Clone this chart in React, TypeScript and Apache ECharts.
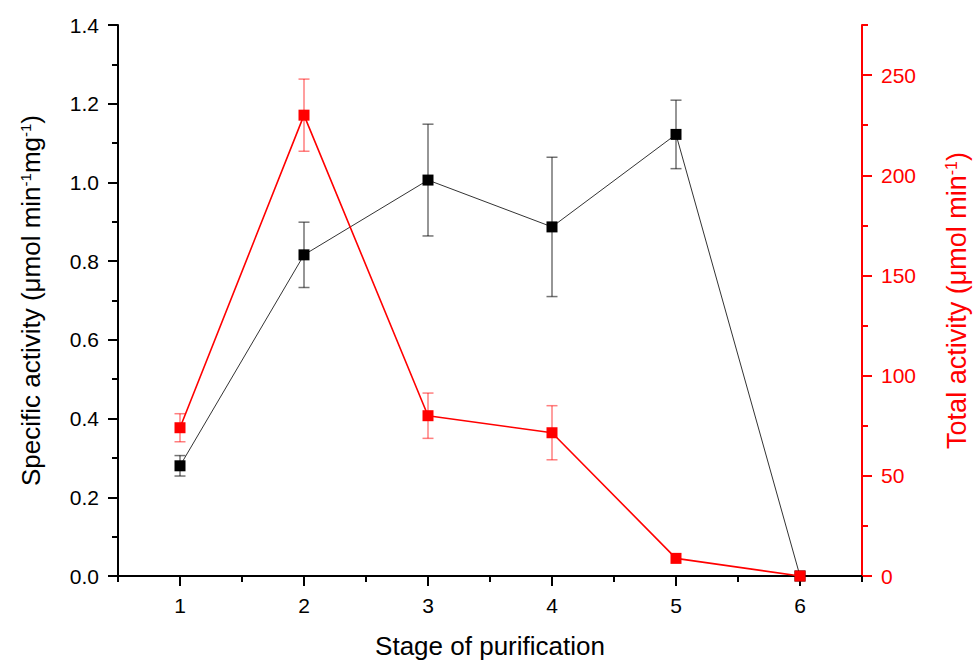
import React, { useEffect, useRef } from 'react';
import * as echarts from 'echarts';

const stages = [1, 2, 3, 4, 5, 6];
const specificActivity = [0.28, 0.816, 1.006, 0.887, 1.122, 0];
const specificError = [0.026, 0.083, 0.142, 0.177, 0.087, 0];
const totalActivity = [74, 230, 80, 71.5, 8.8, 0];
const totalError = [7, 18, 11.3, 13.5, 0, 0];
const xMajorTicks = [1, 2, 3, 4, 5, 6];
const rightMajorTicks = [0, 50, 100, 150, 200, 250];

const FONT = '"Liberation Sans", Arial, Helvetica, sans-serif';

function errorRender(color: string) {
  return (params: any, api: any) => {
    const x = api.value(0);
    const lo = api.value(1);
    const hi = api.value(2);
    if (!(hi - lo > 0)) return { type: 'group', children: [] };
    const pLo = api.coord([x, lo]);
    const pHi = api.coord([x, hi]);
    const w = 5.5;
    const style = { stroke: color, lineWidth: 1.5 };
    return {
      type: 'group',
      children: [
        { type: 'line', shape: { x1: pLo[0], y1: pLo[1], x2: pHi[0], y2: pHi[1] }, style },
        { type: 'line', shape: { x1: pLo[0] - w, y1: pLo[1], x2: pLo[0] + w, y2: pLo[1] }, style },
        { type: 'line', shape: { x1: pHi[0] - w, y1: pHi[1], x2: pHi[0] + w, y2: pHi[1] }, style },
      ],
    };
  };
}

export default function App() {
  const ref = useRef<HTMLDivElement>(null);
  useEffect(() => {
    if (!ref.current) return;
    const chart = echarts.init(ref.current, null, { renderer: 'svg' });
    const black = '#000';
    const red = '#ff0000';
    const option: any = {
      animation: false,
      backgroundColor: '#fff',
      grid: { left: 118, right: 112, top: 25, bottom: 85, outerBoundsMode: 'none' },
      xAxis: [
        {
          type: 'value', min: 0.5, max: 6.5, interval: 0.5, position: 'bottom',
          axisLine: { show: true, onZero: false, lineStyle: { color: black, width: 2 } },
          axisTick: { show: true, length: 6, lineStyle: { color: black, width: 2 } },
          axisLabel: {
            formatter: (v: number) => (Number.isInteger(v) ? String(v) : ''),
            fontSize: 21, color: black, fontFamily: FONT, margin: 19,
          },
          splitLine: { show: false },
          name: 'Stage of purification', nameLocation: 'middle', nameGap: 57,
          nameTextStyle: { fontSize: 26, color: black, fontFamily: FONT },
        },
        {
          type: 'value', min: 0.5, max: 6.5, position: 'bottom',
          axisLine: { show: false, onZero: false },
          axisTick: { show: true, customValues: xMajorTicks, length: 10, lineStyle: { color: black, width: 2 } },
          axisLabel: { show: false },
          splitLine: { show: false },
        },
      ],
      yAxis: [
        {
          type: 'value', min: 0, max: 1.4, interval: 0.2, position: 'left',
          axisLine: { show: true, onZero: false, lineStyle: { color: black, width: 2 } },
          axisTick: { show: true, length: 10, lineStyle: { color: black, width: 2 } },
          minorTick: { show: true, splitNumber: 2, length: 6, lineStyle: { color: black, width: 2 } },
          axisLabel: { formatter: (v: number) => v.toFixed(1), fontSize: 21, color: black, fontFamily: FONT, margin: 19 },
          splitLine: { show: false },
          minorSplitLine: { show: false },
          name: 'Specific activity (μmol min{sup|-1}mg{sup|-1})',
          nameLocation: 'middle', nameGap: 74, nameRotate: 90,
          nameTextStyle: {
            fontSize: 26, color: black, fontFamily: FONT,
            rich: { sup: { fontSize: 15, color: black, fontFamily: FONT, verticalAlign: 'top' } },
          },
        },
        {
          type: 'value', min: 0, max: 275, interval: 25, position: 'right',
          axisLine: { show: true, onZero: false, lineStyle: { color: red, width: 2 } },
          axisTick: { show: true, length: 6, lineStyle: { color: red, width: 2 } },
          axisLabel: {
            formatter: (v: number) => (v % 50 === 0 ? String(v) : ''),
            fontSize: 21, color: red, fontFamily: FONT, margin: 19,
          },
          splitLine: { show: false },
          name: 'Total activity (μmol min{sup|-1})',
          nameLocation: 'middle', nameGap: 81, nameRotate: 90,
          nameTextStyle: {
            fontSize: 27, color: red, fontFamily: FONT,
            rich: { sup: { fontSize: 16, color: red, fontFamily: FONT, verticalAlign: 'top' } },
          },
        },
        {
          type: 'value', min: 0, max: 275, position: 'right',
          axisLine: { show: false, onZero: false },
          axisTick: { show: true, customValues: rightMajorTicks, length: 10, lineStyle: { color: red, width: 2 } },
          axisLabel: { show: false },
          splitLine: { show: false },
        },
      ],
      series: [
        {
          type: 'custom', xAxisIndex: 0, yAxisIndex: 0, z: 1,
          renderItem: errorRender('rgba(0,0,0,0.55)'),
          encode: { x: 0, y: [1, 2] },
          data: stages.map((s, i) => [s, specificActivity[i] - specificError[i], specificActivity[i] + specificError[i]]),
        },
        {
          type: 'line', xAxisIndex: 0, yAxisIndex: 0, z: 2,
          symbol: 'rect', symbolSize: 11,
          itemStyle: { color: black },
          lineStyle: { color: '#333', width: 1 },
          data: stages.map((s, i) => [s, specificActivity[i]]),
        },
        {
          type: 'custom', xAxisIndex: 0, yAxisIndex: 1, z: 3,
          renderItem: errorRender('rgba(255,0,0,0.5)'),
          encode: { x: 0, y: [1, 2] },
          data: stages.map((s, i) => [s, totalActivity[i] - totalError[i], totalActivity[i] + totalError[i]]),
        },
        {
          type: 'line', xAxisIndex: 0, yAxisIndex: 1, z: 4,
          symbol: 'rect', symbolSize: 11,
          itemStyle: { color: red },
          lineStyle: { color: red, width: 1.6 },
          data: stages.map((s, i) => [s, totalActivity[i]]),
        },
      ],
    };
    chart.setOption(option);
    return () => chart.dispose();
  }, []);
  return (
    <div
      ref={ref}
      style={{ position: 'fixed', left: 0, top: 0, width: 974, height: 661, background: '#fff' }}
    />
  );
}
